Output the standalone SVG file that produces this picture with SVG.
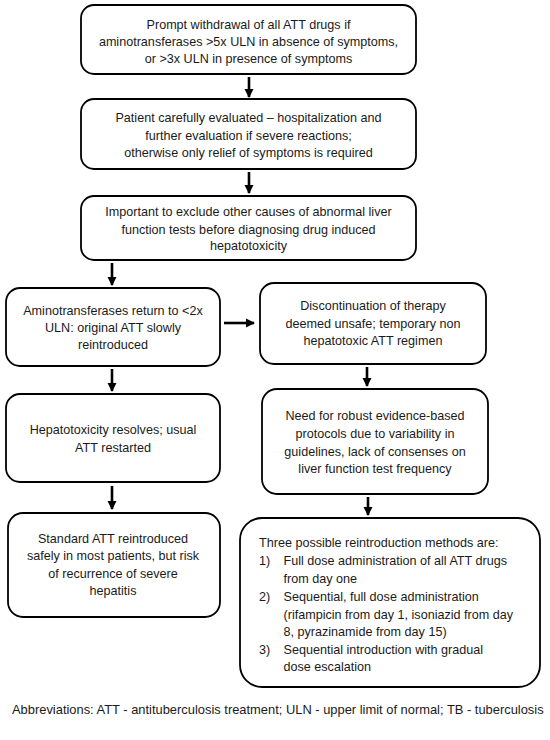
<svg xmlns="http://www.w3.org/2000/svg" width="550" height="740" viewBox="0 0 550 740">
<style>
.box{fill:#fff;stroke:#000;stroke-width:1.8}
.t{font-family:"Liberation Sans",Arial,sans-serif;font-size:12.6px;fill:#1a1a1a}
.c{text-anchor:middle}
.ar{stroke:#000;stroke-width:2.6;fill:none;marker-end:url(#ah)}
</style>
<defs>
<marker id="ah" markerUnits="userSpaceOnUse" markerWidth="10" markerHeight="10" refX="8" refY="5" orient="auto">
<path d="M0,0.5 L9,5 L0,9.5 Z" fill="#000"/>
</marker>
</defs>
<rect width="550" height="740" fill="#fff"/>
<g id="connectors">
<line class="ar" x1="249" y1="77" x2="249" y2="97"/>
<line class="ar" x1="249" y1="172" x2="249" y2="193"/>
<line class="ar" x1="112" y1="263" x2="112" y2="285"/>
<line class="ar" x1="224" y1="323" x2="254" y2="323"/>
<line class="ar" x1="367" y1="367" x2="367" y2="386"/>
<line class="ar" x1="112" y1="369" x2="112" y2="391"/>
<line class="ar" x1="112" y1="486" x2="112" y2="509"/>
<line class="ar" x1="368" y1="497" x2="368" y2="515"/>
</g>
<g id="n1">
<rect class="box" x="81" y="5" width="335" height="69" rx="13"/>
<text class="t c" x="248.5" y="28.5">Prompt withdrawal of all ATT drugs if</text>
<text class="t c" x="248.5" y="46">aminotransferases &gt;5x ULN in absence of symptoms,</text>
<text class="t c" x="248.5" y="63">or &gt;3x ULN in presence of symptoms</text>
</g>
<g id="n2">
<rect class="box" x="81" y="99" width="335" height="70" rx="13"/>
<text class="t c" x="248.5" y="122">Patient carefully evaluated – hospitalization and</text>
<text class="t c" x="248.5" y="139.5">further evaluation if severe reactions;</text>
<text class="t c" x="248.5" y="157">otherwise only relief of symptoms is required</text>
</g>
<g id="n3">
<rect class="box" x="81" y="196" width="335" height="64" rx="13"/>
<text class="t c" x="248.5" y="216">Important to exclude other causes of abnormal liver</text>
<text class="t c" x="248.5" y="233.5">function tests before diagnosing drug induced</text>
<text class="t c" x="248.5" y="250">hepatotoxicity</text>
</g>
<g id="n4">
<rect class="box" x="6" y="288" width="214" height="78" rx="14"/>
<text class="t c" x="113" y="314.5">Aminotransferases return to &lt;2x</text>
<text class="t c" x="113" y="332">ULN: original ATT slowly</text>
<text class="t c" x="113" y="349">reintroduced</text>
</g>
<g id="n5">
<rect class="box" x="260" y="283" width="226" height="81" rx="14"/>
<text class="t c" x="373" y="309.5">Discontinuation of therapy</text>
<text class="t c" x="373" y="327.5">deemed unsafe; temporary non</text>
<text class="t c" x="373" y="345">hepatotoxic ATT regimen</text>
</g>
<g id="n6">
<rect class="box" x="6" y="394" width="214" height="88" rx="14"/>
<text class="t c" x="113" y="434">Hepatotoxicity resolves; usual</text>
<text class="t c" x="113" y="451.5">ATT restarted</text>
</g>
<g id="n7">
<rect class="box" x="262" y="389" width="226" height="105" rx="15"/>
<text class="t c" x="375" y="420">Need for robust evidence-based</text>
<text class="t c" x="375" y="438">protocols due to variability in</text>
<text class="t c" x="375" y="456">guidelines, lack of consenses on</text>
<text class="t c" x="375" y="473">liver function test frequency</text>
</g>
<g id="n8">
<rect class="box" x="8" y="513" width="212" height="104" rx="15"/>
<text class="t c" x="113" y="542.5">Standard ATT reintroduced</text>
<text class="t c" x="113" y="560">safely in most patients, but risk</text>
<text class="t c" x="113" y="577.5">of recurrence of severe</text>
<text class="t c" x="113" y="595">hepatitis</text>
</g>
<g id="n9">
<rect class="box" x="240" y="518" width="300" height="169" rx="22"/>
<text class="t" x="259" y="547">Three possible reintroduction methods are:</text>
<text class="t" x="259" y="565">1)</text>
<text class="t" x="283.5" y="565">Full dose administration of all ATT drugs</text>
<text class="t" x="283.5" y="583">from day one</text>
<text class="t" x="259" y="600.5">2)</text>
<text class="t" x="283.5" y="600.5">Sequential, full dose administration</text>
<text class="t" x="283.5" y="618.5">(rifampicin from day 1, isoniazid from day</text>
<text class="t" x="283.5" y="636">8, pyrazinamide from day 15)</text>
<text class="t" x="259" y="653.5">3)</text>
<text class="t" x="283.5" y="653.5">Sequential introduction with gradual</text>
<text class="t" x="283.5" y="671">dose escalation</text>
</g>
<g id="footer">
<text class="t" x="12" y="714" style="font-size:12.9px">Abbreviations: ATT - antituberculosis treatment; ULN - upper limit of normal; TB - tuberculosis</text>
</g>
</svg>
